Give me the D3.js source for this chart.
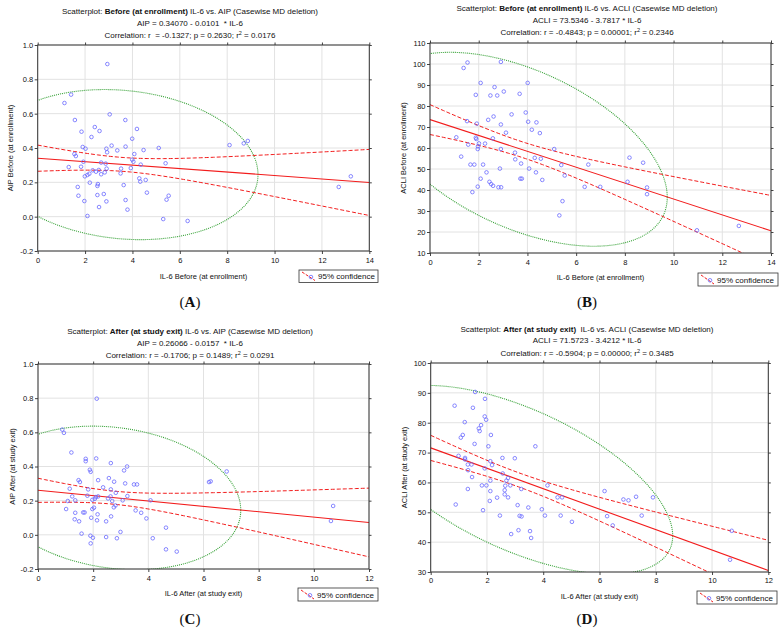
<!DOCTYPE html>
<html><head><meta charset="utf-8">
<script src="https://cdn.jsdelivr.net/npm/d3@7"></script>
<style>
body{margin:0;background:#fff}
text{font-family:"Liberation Sans",Arial,sans-serif;white-space:pre;fill:#111}
</style>
</head><body>
<svg id="chart" width="783" height="634"></svg>
<script>
// ---------- DATA ----------
// Panel A: Before (at enrollment) IL-6 vs AIP
const aIL6 = [2.94,1.41,1.13,3.04,1.57,3.70,2.41,4.19,1.85,2.61,2.27,3.99,1.90,2.02,3.12,3.71,2.90,2.93,3.36,4.47,5.11,4.08,1.55,1.61,8.10,8.70,8.87,3.99,4.04,1.93,2.68,2.87,5.40,4.35,1.31,1.83,2.91,3.52,3.93,2.32,2.58,2.46,2.83,2.68,3.50,2.18,2.10,1.99,4.29,4.33,4.56,2.20,2.54,2.52,3.63,1.69,4.61,1.72,2.79,2.52,5.53,5.44,3.71,1.97,2.90,2.59,3.79,2.10,5.30,6.33,12.71,13.22];
const aAIP = [0.889,0.711,0.662,0.596,0.563,0.563,0.522,0.511,0.495,0.499,0.464,0.454,0.406,0.396,0.414,0.408,0.396,0.375,0.386,0.388,0.400,0.365,0.365,0.353,0.417,0.427,0.441,0.332,0.320,0.320,0.315,0.309,0.311,0.303,0.289,0.291,0.280,0.280,0.283,0.270,0.272,0.262,0.258,0.247,0.252,0.250,0.243,0.235,0.223,0.204,0.214,0.198,0.190,0.179,0.184,0.173,0.140,0.122,0.132,0.126,0.122,0.099,0.097,0.091,0.089,0.056,0.041,0.004,-0.014,-0.025,0.173,0.235];
// Panel B: Before (at enrollment) IL-6 vs ACLI
const bIL6 = [1.54,1.38,2.91,2.08,4.01,2.65,1.88,2.48,2.76,3.03,3.68,3.35,3.93,2.61,2.39,1.52,1.92,2.91,4.03,4.37,4.18,3.12,4.51,1.08,1.88,1.90,2.58,1.57,2.01,2.26,1.97,1.96,2.91,5.10,3.49,1.28,3.50,4.30,4.55,8.19,8.75,1.66,1.82,2.18,3.74,5.39,6.50,2.87,4.07,2.32,4.35,5.53,2.08,3.77,3.71,4.61,2.44,2.51,2.59,2.81,2.92,1.96,6.35,6.99,8.11,8.91,8.91,1.74,5.44,5.31,10.96,12.68];
const bACLI = [100.7,98.1,101.0,91.0,91.0,89.0,85.3,85.0,85.0,86.9,85.8,76.0,76.9,75.0,73.4,72.8,71.6,71.2,72.5,72.2,68.7,67.3,67.1,65.1,64.9,64.3,64.6,61.6,62.2,62.1,60.8,59.5,59.5,59.5,57.8,55.9,54.6,55.3,54.9,55.4,53.0,52.1,52.1,52.1,52.6,51.9,52.1,50.2,50.2,48.4,48.4,46.9,45.4,45.4,45.4,44.8,43.9,42.8,42.0,41.3,41.3,41.6,41.5,41.5,43.9,41.2,38.0,39.0,34.7,27.9,20.8,22.9];
// Panel C: After (at study exit) IL-6 vs AIP
const cIL6 = [2.13,0.88,0.94,1.21,1.73,1.73,2.11,2.64,3.23,3.12,1.88,1.91,6.84,2.57,2.18,1.47,1.52,2.76,3.16,3.48,3.59,6.20,6.26,1.15,1.82,2.36,2.64,2.82,1.79,1.24,2.10,2.18,2.63,3.24,1.97,2.06,2.54,2.69,3.07,4.08,1.08,1.35,2.81,2.75,1.02,2.03,1.97,1.35,1.64,1.69,2.16,3.54,3.74,1.33,1.49,1.93,2.65,2.14,2.47,3.93,4.64,1.58,2.99,1.90,1.99,2.47,2.86,4.16,1.91,4.64,5.03,10.70,10.62];
const cAIP = [0.797,0.616,0.597,0.482,0.445,0.431,0.447,0.420,0.400,0.377,0.381,0.369,0.371,0.332,0.320,0.320,0.309,0.311,0.301,0.295,0.295,0.309,0.313,0.270,0.266,0.278,0.266,0.246,0.229,0.225,0.221,0.225,0.225,0.227,0.205,0.211,0.213,0.198,0.202,0.202,0.198,0.202,0.172,0.161,0.151,0.159,0.151,0.129,0.131,0.131,0.120,0.143,0.129,0.091,0.079,0.100,0.108,0.085,0.079,0.096,0.042,0.007,0.017,-0.005,-0.017,-0.013,-0.020,-0.020,-0.050,-0.085,-0.098,0.169,0.081];
// Panel D: After (at study exit) IL-6 vs ACLI
const dIL6 = [1.58,1.93,0.85,1.50,1.92,1.97,1.21,1.79,1.71,1.74,1.14,1.07,2.14,1.56,2.05,3.72,0.99,1.22,1.22,2.12,2.18,1.32,1.45,2.55,2.99,1.33,1.92,1.47,2.56,2.75,2.12,2.69,1.82,1.98,2.65,2.83,4.15,1.32,2.12,2.63,3.22,2.63,2.36,2.75,4.51,4.67,2.10,0.89,1.86,2.46,3.09,3.16,3.23,3.47,3.95,4.06,4.62,5.02,6.18,6.27,6.47,6.85,7.03,7.30,7.50,7.90,2.86,3.12,3.53,3.57,10.70,10.64];
const dACLI = [90.3,88.0,85.7,85.0,82.1,81.0,80.2,79.2,78.1,77.2,75.9,75.0,75.9,72.9,72.1,72.1,68.9,68.2,67.7,67.1,65.8,66.0,66.0,68.2,68.1,64.1,64.7,61.8,63.0,61.5,60.6,60.6,59.0,59.0,58.9,59.0,59.0,57.8,57.1,57.4,57.8,56.0,54.9,55.0,55.0,55.0,53.8,52.6,50.7,48.9,52.4,48.8,48.6,51.6,51.0,48.9,48.9,46.8,57.1,48.7,45.6,54.3,54.0,55.2,48.9,55.0,42.7,44.0,43.7,41.4,43.8,34.1];

// Regression coefficients (intercept, slope) as printed
const coefA = [0.34070, -0.0101];
const coefB = [73.5346, -3.7817];
const coefC = [0.26066, -0.0157];
const coefD = [71.5723, -3.4212];

// Tick values
const xTicks14 = [0,2,4,6,8,10,12,14];
const xTicks12 = [0,2,4,6,8,10,12];
const yTicksAIP = [-0.2,0.0,0.2,0.4,0.6,0.8,1.0];
const yTicksACLI_B = [10,20,30,40,50,60,70,80,90,100,110];
const yTicksACLI_D = [30,40,50,60,70,80,90,100];

// Texts
const titlesA = [["Scatterplot: ","Before (at enrollment)"," IL-6 vs. AIP (Casewise MD deletion)"],"AIP = 0.34070 - 0.0101  * IL-6",["Correlation: r  = -0.1327; p = 0.2630; r","2"," = 0.0176"]];
const titlesB = [["Scatterplot: ","Before (at enrollment)"," IL-6 vs. ACLI (Casewise MD deletion)"],"ACLI = 73.5346 - 3.7817 * IL-6",["Correlation: r = -0.4843; p = 0.00001; r","2"," = 0.2346"]];
const titlesC = [["Scatterplot: ","After (at study exit)"," IL-6 vs. AIP (Casewise MD deletion)"],"AIP = 0.26066 - 0.0157  * IL-6",["Correlation: r = -0.1706; p = 0.1489; r","2"," = 0.0291"]];
const titlesD = [["Scatterplot: ","After (at study exit)","  IL-6 vs. ACLI (Casewise MD deletion)"],"ACLI = 71.5723 - 3.4212 * IL-6",["Correlation: r = -0.5904; p = 0.00000; r","2"," = 0.3485"]];
const xLabels = ["IL-6 Before (at enrollment)","IL-6 Before (at enrollment)","IL-6 After (at study exit)","IL-6 After (at study exit)"];
const yLabels = ["AIP Before (at enrollment)","ACLI Before (at enrollment)","AIP After (at study exit)","ACLI After (at study exit)"];
const panelLetters = ["A","B","C","D"];
const legendText = "95% confidence";

// ---------- LAYOUT ----------
const layout = [
  {l:37.7,r:369.3,t:45,b:251, tx:190, ty:[14,26,37.5], xtY:263, xlY:278.5, ylX:10, lg:[299,270,79,12.5], letY:307},
  {l:430,r:771,t:43,b:253, tx:587, ty:[10.5,22.5,35], xtY:265, xlY:280, ylX:403.5, lg:[698,273,80,13], letY:307},
  {l:38,r:369,t:364,b:569, tx:190, ty:[334,345.5,357.5], xtY:580.5, xlY:596, ylX:12.5, lg:[298,588,80,13], letY:624},
  {l:430.7,r:768.3,t:363,b:572, tx:587, ty:[331.5,342.5,356], xtY:582.5, xlY:598.5, ylX:404.5, lg:[697,591,80,13], letY:624}
];

const panels = [
  {xs:aIL6, ys:aAIP, coef:coefA, xDom:[0,14], yDom:[-0.2,1.0], xT:xTicks14, yT:yTicksAIP, yF:d=>d.toFixed(1), titles:titlesA},
  {xs:bIL6, ys:bACLI, coef:coefB, xDom:[0,14], yDom:[10,110], xT:xTicks14, yT:yTicksACLI_B, yF:d=>String(d), titles:titlesB},
  {xs:cIL6, ys:cAIP, coef:coefC, xDom:[0,12], yDom:[-0.2,1.0], xT:xTicks12, yT:yTicksAIP, yF:d=>d.toFixed(1), titles:titlesC},
  {xs:dIL6, ys:dACLI, coef:coefD, xDom:[0,12], yDom:[30,100], xT:xTicks12, yT:yTicksACLI_D, yF:d=>String(d), titles:titlesD}
];

const RED = "#f21c1c", BLUE = "#6a6aff", GREEN = "#34a034", GRID = "#e2e2e2";
const T975 = 1.994;

const svg = d3.select("#chart");

panels.forEach((p, i) => {
  const L = layout[i];
  const g = svg.append("g");
  const x = d3.scaleLinear().domain(p.xDom).range([L.l, L.r]);
  const y = d3.scaleLinear().domain(p.yDom).range([L.b, L.t]);

  // grid
  g.append("g").selectAll("line").data(p.xT).join("line")
    .attr("x1", d => x(d)).attr("x2", d => x(d)).attr("y1", L.t).attr("y2", L.b)
    .attr("stroke", GRID).attr("stroke-width", 1);
  g.append("g").selectAll("line").data(p.yT).join("line")
    .attr("y1", d => y(d)).attr("y2", d => y(d)).attr("x1", L.l).attr("x2", L.r)
    .attr("stroke", GRID).attr("stroke-width", 1);

  // axes
  const fs = "7.5px";
  const axB = g.append("g").attr("transform", `translate(0,${L.b})`)
    .call(d3.axisBottom(x).tickValues(p.xT).tickFormat(d => String(d)).tickSize(3).tickPadding(2));
  const axL = g.append("g").attr("transform", `translate(${L.l},0)`)
    .call(d3.axisLeft(y).tickValues(p.yT).tickFormat(p.yF).tickSize(3).tickPadding(1.5));
  const axR = g.append("g").attr("transform", `translate(${L.r},0)`)
    .call(d3.axisRight(y).tickValues(p.yT).tickFormat("").tickSize(2.5));
  const axT = g.append("g").attr("transform", `translate(0,${L.t})`)
    .call(d3.axisTop(x).tickValues(p.xT).tickFormat("").tickSize(2.5));
  [axB, axL, axR, axT].forEach(a => {
    a.select(".domain").remove();
    a.selectAll(".tick line").attr("stroke", "#444");
    a.selectAll("text").style("font-family", '"Liberation Sans",Arial,sans-serif').style("font-size", fs).attr("fill", "#111");
  });
  axB.selectAll("text").attr("y", L.xtY - L.b).attr("dy", 0);

  // clip
  const cid = "clip" + i;
  svg.append("clipPath").attr("id", cid).append("rect")
    .attr("x", L.l).attr("y", L.t).attr("width", L.r - L.l).attr("height", L.b - L.t);
  const plot = g.append("g").attr("clip-path", `url(#${cid})`);

  // stats
  const n = p.xs.length;
  const mx = d3.mean(p.xs), my = d3.mean(p.ys);
  let sxx = 0, syy = 0, sxy = 0, sse = 0;
  for (let k = 0; k < n; k++) {
    const dx = p.xs[k] - mx, dy = p.ys[k] - my;
    sxx += dx*dx; syy += dy*dy; sxy += dx*dy;
    const res = p.ys[k] - (p.coef[0] + p.coef[1]*p.xs[k]);
    sse += res*res;
  }
  const s = Math.sqrt(sse / (n - 2));
  const fit = xv => p.coef[0] + p.coef[1]*xv;
  const half = xv => T975 * s * Math.sqrt(1/n + (xv - mx)*(xv - mx)/sxx);
  const xsLine = d3.range(0, 101).map(k => p.xDom[0] + (p.xDom[1]-p.xDom[0])*k/100);
  const line = d3.line().x(d => x(d[0])).y(d => y(d[1]));

  // 95% prediction ellipse (bivariate normal)
  const m = n - 2;
  const F95 = (m/2) * (Math.pow(0.05, -2/m) - 1);
  const cEll = 2*(n-1)*(n+1)/(n*(n-2)) * F95;
  const cxx = sxx/(n-1), cyy = syy/(n-1), cxy = sxy/(n-1);
  const l11 = Math.sqrt(cxx), l21 = cxy/l11, l22 = Math.sqrt(cyy - l21*l21);
  const rr = Math.sqrt(cEll);
  const ell = d3.range(0, 361).map(k => {
    const t = k*Math.PI/180, u = rr*Math.cos(t), v = rr*Math.sin(t);
    return [mx + l11*u, my + l21*u + l22*v];
  });
  plot.append("path").attr("d", line(ell)).attr("fill", "none")
    .attr("stroke", GREEN).attr("stroke-width", 1.1).attr("stroke-dasharray", "1,1");

  // confidence bands
  plot.append("path").attr("d", line(xsLine.map(v => [v, fit(v) + half(v)])))
    .attr("fill", "none").attr("stroke", RED).attr("stroke-width", 1).attr("stroke-dasharray", "4,2");
  plot.append("path").attr("d", line(xsLine.map(v => [v, fit(v) - half(v)])))
    .attr("fill", "none").attr("stroke", RED).attr("stroke-width", 1).attr("stroke-dasharray", "4,2");
  plot.append("path").attr("d", line(p.xDom.map(v => [v, fit(v)])))
    .attr("fill", "none").attr("stroke", RED).attr("stroke-width", 1.1);

  // points
  plot.append("g").selectAll("circle").data(d3.range(n)).join("circle")
    .attr("cx", k => x(p.xs[k])).attr("cy", k => y(p.ys[k])).attr("r", 1.8)
    .attr("fill", "none").attr("stroke", BLUE).attr("stroke-width", 0.8);

  // frame
  g.append("rect").attr("x", L.l).attr("y", L.t).attr("width", L.r - L.l).attr("height", L.b - L.t)
    .attr("fill", "none").attr("stroke", "#333").attr("stroke-width", 1);

  // titles
  const t1 = g.append("text").attr("x", L.tx).attr("y", L.ty[0]).attr("text-anchor", "middle").style("font-size", "8px");
  t1.append("tspan").text(p.titles[0][0]);
  t1.append("tspan").attr("font-weight", "bold").text(p.titles[0][1]);
  t1.append("tspan").text(p.titles[0][2]);
  g.append("text").attr("x", L.tx).attr("y", L.ty[1]).attr("text-anchor", "middle").style("font-size", "8px").text(p.titles[1]);
  const t3 = g.append("text").attr("x", L.tx).attr("y", L.ty[2]).attr("text-anchor", "middle").style("font-size", "8px");
  t3.append("tspan").text(p.titles[2][0]);
  t3.append("tspan").attr("dy", -3).style("font-size", "5.5px").text(p.titles[2][1]);
  t3.append("tspan").attr("dy", 3).text(p.titles[2][2]);

  // axis labels
  g.append("text").attr("x", (L.l + L.r)/2).attr("y", L.xlY).attr("text-anchor", "middle")
    .style("font-size", "7.5px").text(xLabels[i]);
  g.append("text").attr("transform", `translate(${L.ylX},${(L.t + L.b)/2}) rotate(-90)`)
    .attr("text-anchor", "middle").attr("dy", "0.35em").style("font-size", "7.5px").text(yLabels[i]);

  // legend
  const [lx, ly, lw, lh] = L.lg;
  g.append("rect").attr("x", lx).attr("y", ly).attr("width", lw).attr("height", lh)
    .attr("fill", "#fff").attr("stroke", "#333").attr("stroke-width", 0.8);
  g.append("line").attr("x1", lx + 3).attr("y1", ly + 2).attr("x2", lx + 16).attr("y2", ly + lh - 2)
    .attr("stroke", RED).attr("stroke-width", 1).attr("stroke-dasharray", "3,1.5");
  g.append("circle").attr("cx", lx + 12).attr("cy", ly + lh/2 + 0.8).attr("r", 1.8)
    .attr("fill", "none").attr("stroke", BLUE).attr("stroke-width", 0.8);
  g.append("text").attr("x", lx + 19).attr("y", ly + lh - 3.3).style("font-size", "8px").text(legendText);

  // panel letter
  const lt = svg.append("text").attr("x", L.tx).attr("y", L.letY).attr("text-anchor", "middle")
    .style("font-family", '"Liberation Serif","Times New Roman",serif').style("font-size", "15px");
  lt.append("tspan").text("(");
  lt.append("tspan").attr("font-weight", "bold").text(panelLetters[i]);
  lt.append("tspan").text(")");
});
</script>
</body></html>
